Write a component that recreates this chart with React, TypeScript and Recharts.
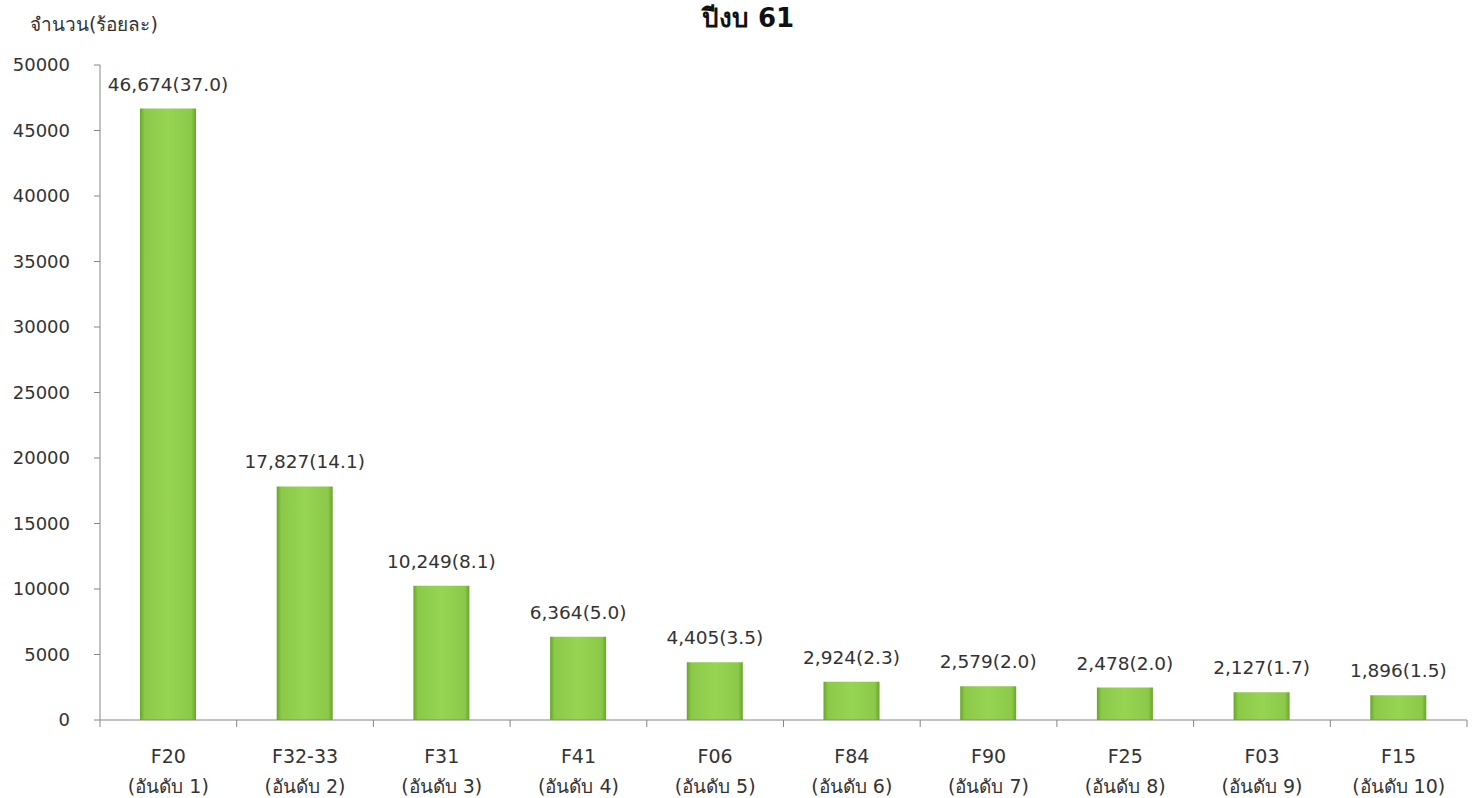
import React from 'react';
import { BarChart, Bar, XAxis, YAxis, LabelList } from 'recharts';

const codes = ['F20', 'F32-33', 'F31', 'F41', 'F06', 'F84', 'F90', 'F25', 'F03', 'F15'];
const ranks = ['(อันดับ 1)', '(อันดับ 2)', '(อันดับ 3)', '(อันดับ 4)', '(อันดับ 5)', '(อันดับ 6)', '(อันดับ 7)', '(อันดับ 8)', '(อันดับ 9)', '(อันดับ 10)'];
const counts = [46674, 17827, 10249, 6364, 4405, 2924, 2579, 2478, 2127, 1896];
const percents = [37.0, 14.1, 8.1, 5.0, 3.5, 2.3, 2.0, 2.0, 1.7, 1.5];
const yTicks = [0, 5000, 10000, 15000, 20000, 25000, 30000, 35000, 40000, 45000, 50000];

const data = codes.map((code, i) => ({
  code,
  rank: ranks[i],
  count: counts[i],
  label: `${counts[i].toLocaleString('en-US')}(${percents[i].toFixed(1)})`,
}));

const FONT = '"DejaVu Sans", Verdana, sans-serif';

const XTick = (props: any) => {
  const { x, y, payload, index, width } = props;
  const band = width / codes.length;
  const item = data[index];
  return (
    <g>
      <line x1={x - band / 2} y1={y - 8} x2={x - band / 2} y2={y - 1} stroke="#868686" />
      {index === codes.length - 1 && (
        <line x1={x + band / 2} y1={y - 8} x2={x + band / 2} y2={y - 1} stroke="#868686" />
      )}
      <text x={x} y={y + 35} textAnchor="middle" fill="#333" fontSize={19} fontFamily={FONT}>
        {payload.value}
      </text>
      <text x={x} y={y + 65} textAnchor="middle" fill="#333" fontSize={19} fontFamily={FONT}>
        {item ? item.rank : ''}
      </text>
    </g>
  );
};

const TopLabel = (props: any) => {
  const { x, y, width, value } = props;
  return (
    <text x={x + width / 2} y={y - 18} textAnchor="middle" fill="#333" fontSize={18.5} fontFamily={FONT}>
      {value}
    </text>
  );
};

export default function App() {
  return (
    <div style={{ position: 'absolute', left: 0, top: 0, width: 1474, height: 798, background: '#fff' }}>
      <BarChart
        width={1474}
        height={798}
        data={data}
        margin={{ top: 65, right: 7, left: 0, bottom: 0 }}
      >
        <defs>
          <linearGradient id="barFill" x1="0" y1="0" x2="1" y2="0">
            <stop offset="0%" stopColor="#67a428" />
            <stop offset="8%" stopColor="#8cc94a" />
            <stop offset="50%" stopColor="#96d452" />
            <stop offset="92%" stopColor="#8cc94a" />
            <stop offset="100%" stopColor="#67a428" />
          </linearGradient>
        </defs>
        <text x={748} y={27} textAnchor="middle" fontSize={26} fontWeight="bold" fill="#111" fontFamily={FONT}>
          ปีงบ 61
        </text>
        <text x={30} y={31} fill="#333" fontSize={19} fontFamily={FONT}>
          จำนวน(ร้อยละ)
        </text>
        <XAxis
          dataKey="code"
          height={78}
          stroke="#868686"
          tickLine={false}
          interval={0}
          tick={<XTick />}
        />
        <YAxis
          width={100}
          domain={[0, 50000]}
          ticks={yTicks}
          stroke="#868686"
          tickSize={6}
          tickMargin={24}
          tick={{ fill: '#333', fontSize: 18, fontFamily: FONT }}
          interval={0}
        />
        <Bar dataKey="count" fill="url(#barFill)" barSize={56} isAnimationActive={false}>
          <LabelList dataKey="label" content={<TopLabel />} />
        </Bar>
      </BarChart>
    </div>
  );
}
